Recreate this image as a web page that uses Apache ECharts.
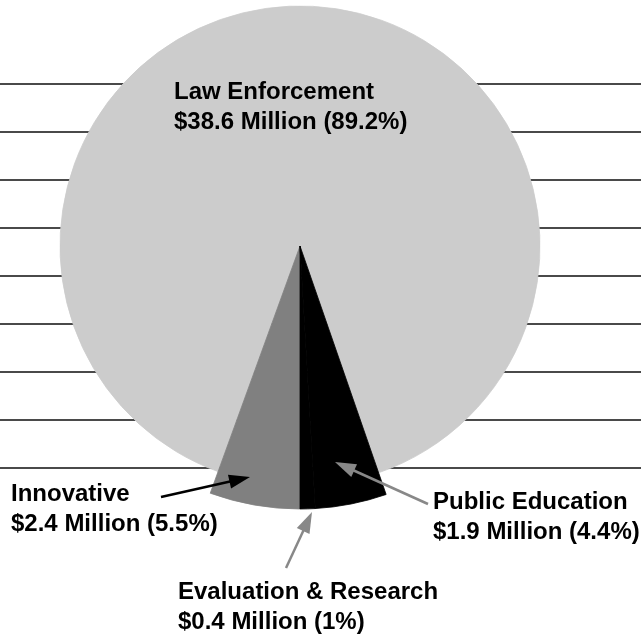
<!DOCTYPE html>
<html>
<head>
<meta charset="utf-8">
<script src="https://cdn.jsdelivr.net/npm/echarts@6/dist/echarts.min.js"></script>
<style>
  html, body { margin: 0; padding: 0; background: #ffffff; }
  #chart { width: 641px; height: 635px; }
</style>
</head>
<body>
<div id="chart"></div>
<script>
// Budget split, in millions of dollars
const categories = ['Innovative', 'Law Enforcement', 'Public Education', 'Evaluation & Research'];
const millions = [2.4, 38.6, 1.9, 0.4];
const percentLabels = ['5.5', '89.2', '4.4', '1'];
const sliceColors = ['#808080', '#cccccc', '#000000', '#000000'];

// Decorative horizontal rules behind the pie (one per tick)
const ruleTicks = [0, 1, 2, 3, 4, 5, 6, 7, 8];

// Top-left anchor for each two-line label
const labelAnchors = [[11, 479], [174, 77], [433, 487], [178, 577]];

const FONT = "'Liberation Sans', Arial, sans-serif";
const CENTER = [300, 246];

function pieData(showMain) {
  return categories.map((name, i) => {
    const isMain = i === 1;
    const visible = showMain ? isMain : !isMain;
    const color = visible ? sliceColors[i] : 'rgba(0,0,0,0)';
    return {
      name: name,
      value: millions[i],
      itemStyle: { color: color, borderColor: color, borderWidth: visible ? 0.8 : 0 }
    };
  });
}

// Arrow annotation: shaft plus filled head
function arrow(x1, y1, x2, y2, color, width) {
  const ang = Math.atan2(y2 - y1, x2 - x1);
  const len = 21, half = 7;
  const bx = x2 - len * Math.cos(ang), by = y2 - len * Math.sin(ang);
  const px = -Math.sin(ang) * half, py = Math.cos(ang) * half;
  return [
    {
      type: 'line', z: 50,
      shape: { x1: x1, y1: y1, x2: bx + 4 * Math.cos(ang), y2: by + 4 * Math.sin(ang) },
      style: { stroke: color, lineWidth: width }
    },
    {
      type: 'polygon', z: 51,
      shape: { points: [[x2, y2], [bx + px, by + py], [bx - px, by - py]] },
      style: { fill: color }
    }
  ];
}

const chart = echarts.init(document.getElementById('chart'), null, { renderer: 'canvas' });

chart.setOption({
  animation: false,
  backgroundColor: '#ffffff',
  grid: { left: 0, right: 0, top: 84, height: 384 },
  xAxis: { type: 'value', show: false, min: 0, max: 1 },
  yAxis: {
    type: 'value',
    min: ruleTicks[0],
    max: ruleTicks[ruleTicks.length - 1],
    interval: 1,
    axisLine: { show: false },
    axisTick: { show: false },
    axisLabel: { show: false },
    splitLine: { show: true, lineStyle: { color: '#4a4a4a', width: 2 } }
  },
  series: [
    {
      type: 'pie',
      center: CENTER,
      radius: 240,
      startAngle: 270,
      clockwise: true,
      silent: true,
      avoidLabelOverlap: false,
      label: { show: false },
      labelLine: { show: false },
      data: pieData(true),
      z: 3
    },
    {
      type: 'pie',
      center: CENTER,
      radius: 263,
      startAngle: 270,
      clockwise: true,
      silent: true,
      avoidLabelOverlap: false,
      label: {
        show: true,
        position: 'outside',
        color: '#000000',
        fontFamily: FONT,
        fontWeight: 'bold',
        fontSize: 24,
        lineHeight: 30,
        formatter: p => p.name + '\n$' + p.value + ' Million (' + percentLabels[p.dataIndex] + '%)'
      },
      labelLine: { show: false },
      labelLayout: p => {
        const a = labelAnchors[p.dataIndex];
        return { x: a[0], y: a[1], align: 'left', verticalAlign: 'top' };
      },
      data: pieData(false),
      z: 4
    }
  ],
  graphic: [].concat(
    arrow(161, 497, 250, 477, '#000000', 2.5),
    arrow(428, 504, 335, 462, '#888888', 2.5),
    arrow(286, 568, 312, 512, '#888888', 2.5)
  )
});
</script>
</body>
</html>
